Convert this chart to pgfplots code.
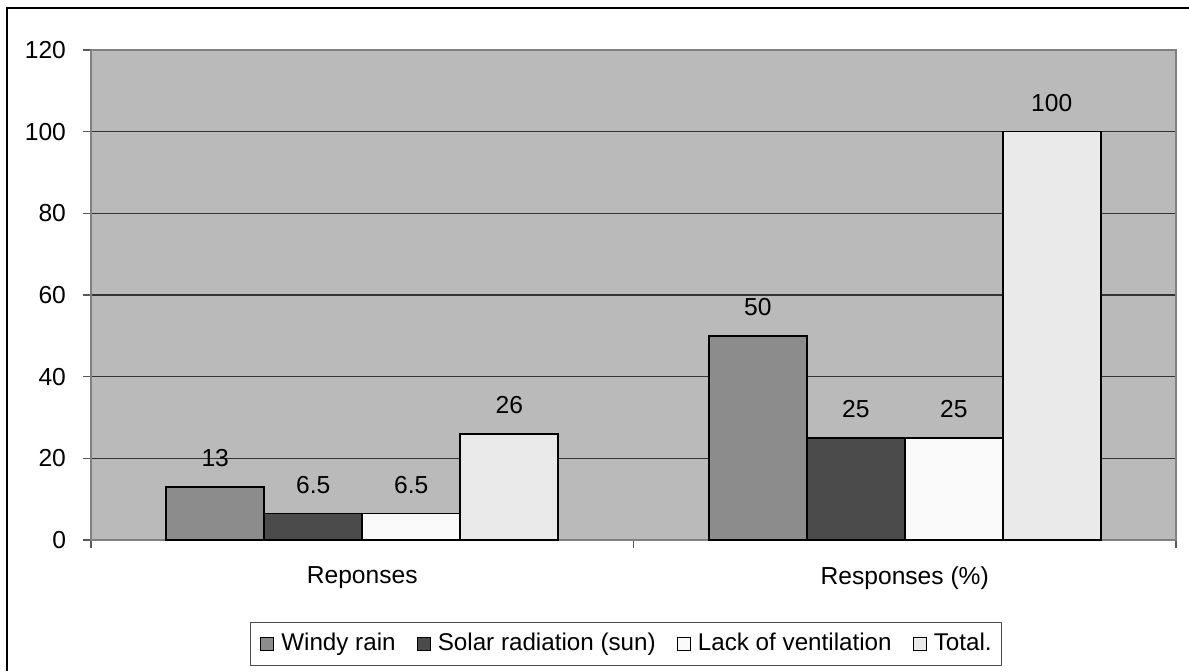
\documentclass[border=0pt]{standalone}
\usepackage{fontspec}
\setmainfont{Liberation Sans}
\usepackage{pgfplots}
\pgfplotsset{compat=1.18}
\definecolor{bgray}{RGB}{186,186,186}
\definecolor{cwind}{RGB}{140,140,140}
\definecolor{csolar}{RGB}{75,75,75}
\definecolor{cvent}{RGB}{250,250,250}
\definecolor{ctotal}{RGB}{234,234,234}
\pgfplotsset{ybar legend/.style={legend image code/.code={\draw[#1,line width=0.6pt] (0pt,-3.25pt) rectangle (6.5pt,3.25pt);}}}
\begin{document}
\begin{tikzpicture}
\useasboundingbox (0,0) rectangle (594.5pt,335.5pt);
\draw[line width=0.8pt] (3.5pt,0pt) -- (3.5pt,331.5pt) -- (600pt,331.5pt);
\begin{axis}[
  at={(45.5pt,65.5pt)}, anchor=south west,
  scale only axis, width=542.5pt, height=245pt,
  ybar, bar width=49pt, ybar=0pt,
  xmin=-0.5, xmax=1.5, ymin=0, ymax=120,
  ytick={0,20,...,120},
  xtick={-0.5,0.5,1.5}, x tick label as interval,
  xticklabels={Reponses,Responses (\%)},
  xtick pos=bottom, ytick pos=left,
  tick align=outside, major tick length=4pt,
  tick style={black!65, line width=0.6pt},
  axis line style={black!50, line width=0.6pt},
  axis background/.style={fill=bgray},
  ymajorgrids, grid style={black!80, line width=0.6pt},
  /pgf/number format/assume math mode=true,
  ticklabel style={font=\fontsize{12.3}{14}\selectfont},
  yticklabel style={xshift=-5pt},
  xticklabel style={yshift=-6pt},
  nodes near coords,
  every node near coord/.append style={font=\fontsize{12.3}{14}\selectfont, anchor=base, inner sep=0pt, yshift=10pt, black},
  legend columns=4,
  legend style={at={(0.493,-0.2122)}, anchor=center, draw=black!70, line width=0.6pt,
    font=\fontsize{12.1}{14}\selectfont, inner xsep=5pt, inner ysep=5pt,
    nodes={inner sep=0pt, text height=9pt, text depth=2.5pt},
    /tikz/every odd column/.append style={column sep=3.5pt},
    /tikz/every even column/.append style={column sep=10.5pt}},
]
\addplot[fill=cwind, draw=black, line width=0.8pt] coordinates {(0,13) (1,50)};
\addplot[fill=csolar, draw=black, line width=0.8pt] coordinates {(0,6.5) (1,25)};
\addplot[fill=cvent, draw=black, line width=0.8pt] coordinates {(0,6.5) (1,25)};
\addplot[fill=ctotal, draw=black, line width=0.8pt] coordinates {(0,26) (1,100)};
\legend{Windy rain,Solar radiation (sun),Lack of ventilation,Total.}
\end{axis}
\end{tikzpicture}
\end{document}
